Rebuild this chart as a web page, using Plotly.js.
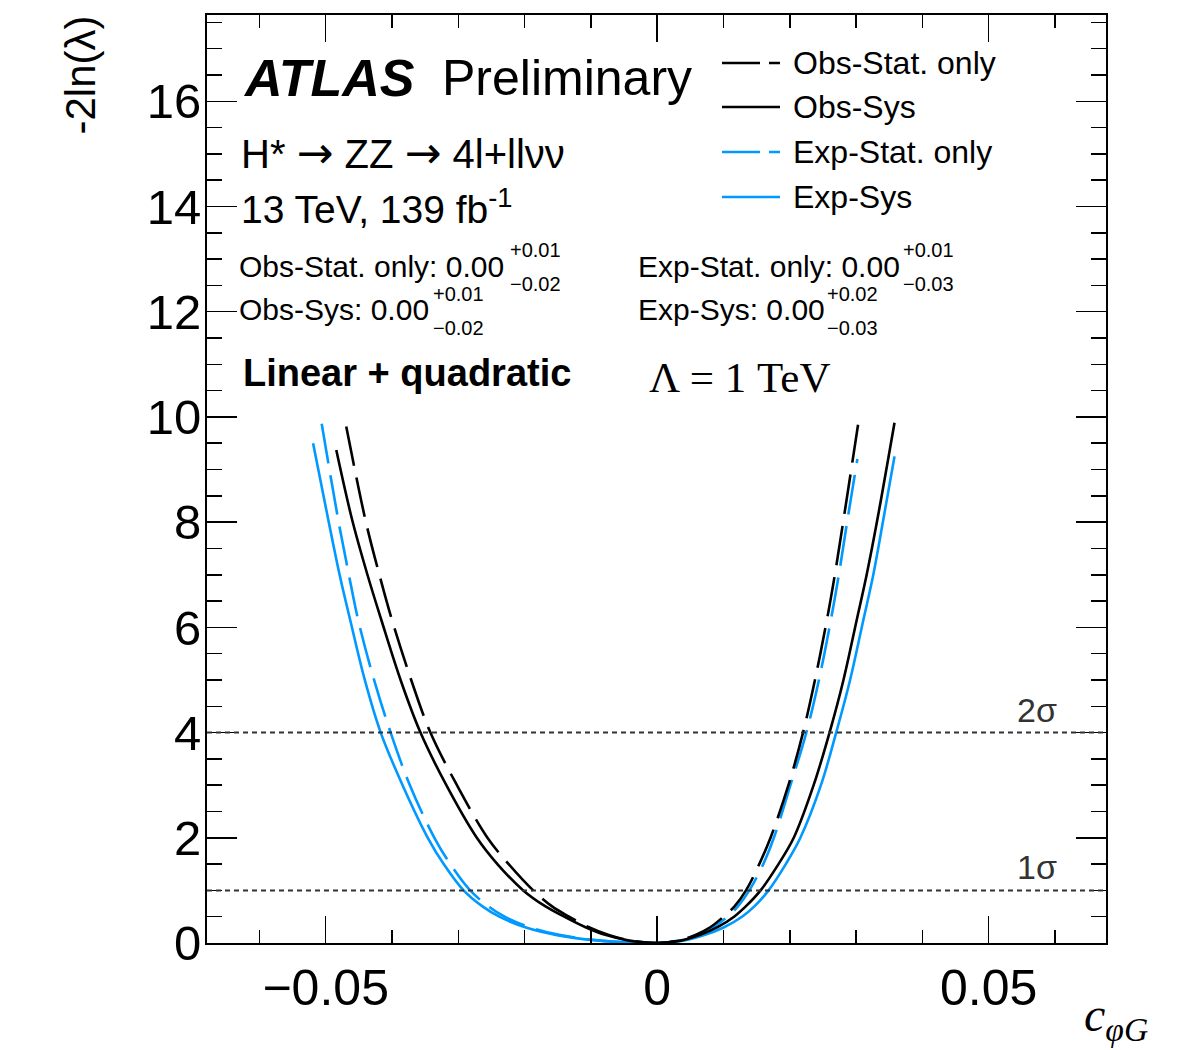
<!DOCTYPE html>
<html>
<head>
<meta charset="utf-8">
<script src="https://cdn.plot.ly/plotly-3.0.1.min.js"></script>
<style>html,body{margin:0;padding:0;background:#fff;}</style>
</head>
<body>
<div id="chart" style="width:1178px;height:1050px;"></div>
<script>
// ---- data (c_phiG, -2ln(lambda)) ----
const obsStatX = [-0.0469,-0.0440,-0.0419,-0.0400,-0.0371,-0.0342,-0.0302,-0.0256,-0.0224,-0.0187,-0.0159,-0.0133,-0.0103,-0.0073,-0.0042,0,
                  0.0033,0.0057,0.0080,0.0100,0.0117,0.0134,0.0154,0.0171,0.0198,0.0220,0.0238,0.0256,0.0268,0.0281,0.0303];
const obsStatY = [9.82,8.04,7.0,6.14,5.0,4.0,3.0,2.0,1.5,1.0,0.7,0.5,0.3,0.15,0.05,0,
                  0.05,0.15,0.3,0.5,0.7,1.0,1.5,2.0,3.0,4.0,5.0,6.14,7.0,8.04,9.85];

const obsSysX = [-0.0484,-0.0460,-0.0437,-0.0416,-0.0387,-0.0357,-0.0318,-0.0272,-0.0241,-0.0202,-0.0169,-0.0140,-0.0108,-0.0077,-0.0044,0,
                 0.0037,0.0064,0.0091,0.0116,0.0134,0.0156,0.0183,0.0206,0.0236,0.0260,0.0281,0.0301,0.0316,0.0332,0.0358];
const obsSysY = [9.37,8.04,7.0,6.14,5.0,4.0,3.0,2.0,1.5,1.0,0.7,0.5,0.3,0.15,0.05,0,
                 0.05,0.15,0.3,0.5,0.7,1.0,1.5,2.0,3.0,4.0,5.0,6.14,7.0,8.04,9.89];

const expStatX = [-0.0506,-0.0481,-0.0465,-0.0451,-0.0427,-0.0402,-0.0373,-0.0336,-0.0312,-0.0282,-0.0255,-0.0230,-0.0192,-0.0146,-0.0089,0,
                  0.0035,0.0060,0.0084,0.0106,0.0122,0.0139,0.0160,0.0176,0.0201,0.0225,0.0244,0.0262,0.0274,0.0287,0.0302];
const expStatY = [9.87,8.04,7.0,6.14,5.0,4.0,3.0,2.0,1.5,1.0,0.7,0.5,0.3,0.15,0.05,0,
                  0.05,0.15,0.3,0.5,0.7,1.0,1.5,2.0,3.0,4.0,5.0,6.14,7.0,8.04,9.2];

const expSysX = [-0.0519,-0.0496,-0.0479,-0.0463,-0.0441,-0.0417,-0.0384,-0.0346,-0.0322,-0.0292,-0.0264,-0.0238,-0.0199,-0.0151,-0.0092,0,
                 0.0041,0.0071,0.0101,0.0128,0.0147,0.0168,0.0194,0.0216,0.0247,0.0270,0.0291,0.0311,0.0326,0.0341,0.0358];
const expSysY = [9.50,8.04,7.0,6.14,5.0,4.0,3.0,2.0,1.5,1.0,0.7,0.5,0.3,0.15,0.05,0,
                 0.05,0.15,0.3,0.5,0.7,1.0,1.5,2.0,3.0,4.0,5.0,6.14,7.0,8.04,9.25];

const seriesNames = ['Obs-Stat. only','Obs-Sys','Exp-Stat. only','Exp-Sys'];
const sigmaLevels = [1, 4];
const sigmaLabels = ['1σ', '2σ'];
const xTickVals = [-0.05, 0, 0.05];
const xTickText = ['\u22120.05', '0', '0.05'];
const yTickVals = [0, 2, 4, 6, 8, 10, 12, 14, 16];
const xRange = [-0.0679, 0.0677];
const yRange = [0, 17.64];

// ---- styling / layout ----
const BLACK = '#000000';
const BLUE = '#0099ff';
const SANS = 'Liberation Sans, Arial, Helvetica, sans-serif';
const SERIF = 'Liberation Serif, Times New Roman, serif';

const L = 207, T = 15, R = 1106, B = 943;
const W = R - L, H = B - T;
function px(x) { return (x - L) / W; }
function py(y) { return (B - y) / H; }

function curve(x, y, color, dash, name) {
  return {
    type: 'scatter', mode: 'lines', x: x, y: y, name: name,
    line: { color: color, width: 2.6, dash: dash, shape: 'spline', smoothing: 1 },
    showlegend: false, hoverinfo: 'skip'
  };
}
const DASH = '40px,12px';
const traces = [
  curve(expSysX, expSysY, BLUE, 'solid', seriesNames[3]),
  curve(expStatX, expStatY, BLUE, DASH, seriesNames[2]),
  curve(obsSysX, obsSysY, BLACK, 'solid', seriesNames[1]),
  curve(obsStatX, obsStatY, BLACK, DASH, seriesNames[0])
];

const shapes = [];
sigmaLevels.forEach(function (lv) {
  shapes.push({ type: 'line', xref: 'paper', yref: 'y', x0: 0, x1: 1, y0: lv, y1: lv,
    line: { color: '#333333', width: 2, dash: '5px,4px' } });
});
// legend samples
const legRows = [63, 107, 152, 197];
const legStyles = [[BLACK, '38px,9px'], [BLACK, 'solid'], [BLUE, '38px,9px'], [BLUE, 'solid']];
legRows.forEach(function (ry, i) {
  shapes.push({ type: 'line', xref: 'paper', yref: 'paper', x0: px(722), x1: px(780), y0: py(ry), y1: py(ry),
    line: { color: legStyles[i][0], width: 2.6, dash: legStyles[i][1] } });
});

function ann(text, x, y, size, opts) {
  return Object.assign({
    text: text, xref: 'paper', yref: 'paper', x: px(x), y: py(y),
    xanchor: 'left', yanchor: 'middle', showarrow: false,
    font: { family: SANS, size: size, color: '#000' }
  }, opts || {});
}
const ARROW = '<span style="font-family:\'DejaVu Sans\';font-size:44px">\u2192</span>';
const annotations = [
  ann('<b><i>ATLAS</i></b>', 241, 78, 52),
  ann('Preliminary', 440, 78, 50),
  ann('H* ' + ARROW + ' ZZ ' + ARROW + ' 4l+ll\u03bd\u03bd', 239, 153, 40),
  ann('13 TeV, 139 fb<sup>-1</sup>', 239, 207, 39),
  ann('Obs-Stat. only: 0.00', 237, 266, 30),
  ann('+0.01', 508, 250, 20),
  ann('\u22120.02', 508, 284, 20),
  ann('Obs-Sys: 0.00', 237, 309, 30),
  ann('+0.01', 431, 294, 20),
  ann('\u22120.02', 431, 328, 20),
  ann('Exp-Stat. only: 0.00', 636, 266, 30),
  ann('+0.01', 901, 250, 20),
  ann('\u22120.03', 901, 284, 20),
  ann('Exp-Sys: 0.00', 636, 309, 30),
  ann('+0.02', 825, 294, 20),
  ann('\u22120.03', 825, 328, 20),
  ann('<b>Linear + quadratic</b>', 241, 373, 38),
  ann('\u039b = 1 TeV', 647, 377, 43, { font: { family: SERIF, size: 43, color: '#000' } }),
  ann('<i>c</i><sub><i>\u03c6G</i></sub>', 1150, 1018, 48, { xanchor: 'right', font: { family: SERIF, size: 48, color: '#000' } }),
  { text: '-2ln(\u03bb)', xref: 'paper', yref: 'paper', x: px(80), y: py(14), xanchor: 'center', yanchor: 'top',
    textangle: -90, showarrow: false, font: { family: SANS, size: 42, color: '#000' } }
];
seriesNames.forEach(function (n, i) {
  annotations.push(ann(n, 791, legRows[i], 32));
});
sigmaLevels.forEach(function (lv, i) {
  annotations.push({ text: sigmaLabels[i], xref: 'paper', yref: 'y', x: px(1037), y: lv, xanchor: 'center', yanchor: 'bottom',
    yshift: 2, showarrow: false, font: { family: SANS, size: 34, color: '#333333' } });
});

const layout = {
  width: 1178, height: 1050,
  margin: { l: L, r: 1178 - R, t: T, b: 1050 - B, pad: 0 },
  paper_bgcolor: '#fff', plot_bgcolor: '#fff',
  showlegend: false,
  font: { family: SANS, color: '#000' },
  xaxis: {
    range: xRange, tickmode: 'array', tickvals: xTickVals, ticktext: xTickText,
    ticks: 'inside', ticklen: 27, tickwidth: 1.5, tickcolor: '#000',
    minor: { dtick: 0.01, tick0: 0, ticks: 'inside', ticklen: 13, tickwidth: 1.5, tickcolor: '#000', showgrid: false },
    showline: true, linewidth: 2, linecolor: '#000', mirror: 'allticks',
    showgrid: false, zeroline: false,
    tickfont: { family: SANS, size: 50, color: '#000' }, ticklabelstandoff: 0
  },
  yaxis: {
    range: yRange, tickmode: 'array', tickvals: yTickVals,
    ticks: 'inside', ticklen: 30, tickwidth: 1.5, tickcolor: '#000',
    minor: { dtick: 0.5, tick0: 0, ticks: 'inside', ticklen: 15, tickwidth: 1.5, tickcolor: '#000', showgrid: false },
    showline: true, linewidth: 2, linecolor: '#000', mirror: 'allticks',
    showgrid: false, zeroline: false,
    tickfont: { family: SANS, size: 49, color: '#000' }, ticklabelstandoff: -6
  },
  shapes: shapes,
  annotations: annotations
};

Plotly.newPlot('chart', traces, layout, { staticPlot: true, displayModeBar: false });
</script>
</body>
</html>
